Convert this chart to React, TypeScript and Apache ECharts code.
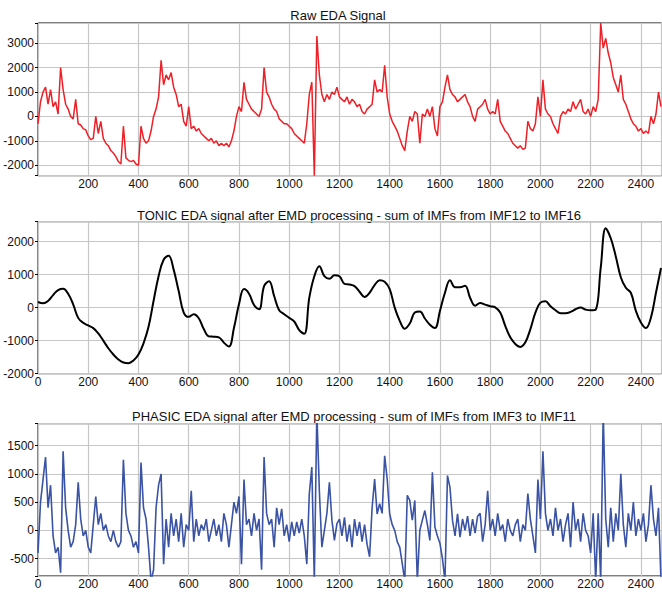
import { useEffect, useRef } from "react";
import * as echarts from "echarts";

// Spacing (in samples) of the stored points of each signal
const RAW_STEP = 10;
const TONIC_STEP = 20;
const PHASIC_STEP = 10;
const SAMPLE_COUNT = 2482;

// Raw EDA signal, one value every 10 samples
const rawEda = [
  -300, 600, 1000, 1200, 500, 1100, 400, 600, 100, 2000,
  1100, 500, 300, 0, -100, 700, -300, -350, -500, -550,
  -800, -950, -900, 0, -700, -200, -900, -1100, -1200, -1400,
  -1500, -1650, -1850, -1950, -400, -1700, -1800, -1850, -1800, -1950,
  -2000, -400, -900, -1100, -1000, -600, 0, 300, 800, 2300,
  1300, 1700, 1500, 1800, 1200, 900, 400, 500, -200, -400,
  400, -500, -400, -600, -500, -700, -800, -900, -1000, -900,
  -1100, -1000, -1200, -1100, -1200, -1100, -1250, -1000, -600, 0,
  400, 200, 1400, 700, 500, 300, 200, 100, 0, 300,
  2000, 1000, 800, 500, 300, 200, -100, -200, -300, -300,
  -400, -500, -700, -800, -900, -1000, -1100, -300, 900, 1400,
  -2430, 3300, 1700, 900, 600, 900, 700, 1000, 900, 1200,
  800, 700, 600, 800, 500, 700, 600, 400, 500, 200,
  100, 300, 400, 500, 1500, 1000, 1100, 1000, 2100, 800,
  100, -200, -400, -600, -900, -1200, -1400, -600, 0, -200,
  200, 100, -1100, 100, 0, 300, 0, 400, -500, -800,
  400, 600, 1200, 1700, 1100, 900, 800, 600, 700, 800,
  900, 600, 400, 0, -200, 300, 400, 500, 700, 300,
  100, 200, 100, 700, -200, -400, -600, -700, -900, -1100,
  -1200, -1300, -1200, -1350, -1300, -200, -500, -600, -300, 800,
  0, 1500, 300, 100, 0, -300, -500, -700, 0, 200,
  100, 300, 200, 600, 300, 500, 700, 200, 100, 300,
  0, 400, 200, 700, 3830, 2800, 3200, 2600, 2200, 1600,
  1300, 1000, 1700, 700, 500, 200, -100, -300, -400, -600,
  -500, -700, -600, -700, 0, -300, 100, 1000, 400,
];

// Tonic component (IMF12..IMF16), one value every 20 samples
const tonicEda = [
  170, 130, 200, 380, 530, 570, 420, 100, -310, -460,
  -540, -620, -780, -1000, -1230, -1420, -1570, -1660, -1680, -1600,
  -1420, -1080, -580, 200, 950, 1450, 1570, 1150, 500, -150,
  -280, -200, -320, -650, -870, -880, -900, -1060, -1180, -620,
  100, 560, 420, 80, -50, 650, 800, 350, -80, -200,
  -310, -420, -680, -790, 300, 950, 1250, 950, 870, 980,
  950, 720, 700, 650, 480, 320, 450, 680, 830, 780,
  560, 0, -400, -640, -480, -150, -120, -330, -520, -620,
  -100, 450, 830, 620, 620, 660, 300, 60, 140, 90,
  40, 10, -150, -550, -900, -1100, -1190, -1050, -650, -150,
  150, 190, 40, -80, -170, -170, -130, -50, 0, -60,
  -80, -60, 1200, 2400, 2100, 1550, 920, 600, 450, -100,
  -450, -620, -300, 450, 1200,
];

// Phasic component (IMF3..IMF11), one value every 10 samples
const phasicEda = [
  -400, 500, 900, 1300, 400, 800, -100, -400, -300, -750,
  1400, 400, 0, -300, -200, 100, 850, 200, -100, 0,
  -300, -400, 100, 600, 100, 300, 0, 100, -100, -200,
  0, -200, -300, -200, 1250, 300, 0, -100, -300, -200,
  -400, 1200, 400, 200, -300, -900, -700, 400, 800, 1000,
  -600, 200, -300, 300, -100, 200, -200, 300, -300, 100,
  0, 700, -200, 200, -100, 100, 0, 200, -200, 0,
  200, -100, 100, -200, 300, 100, -300, 100, 500, 300,
  600, -600, 900, 100, 200, -100, 300, 0, 200, -700,
  1300, 300, 100, 200, -300, 400, 100, 380, -100, 100,
  -200, 150, -100, 150, -50, 200, -100, -600, 650, 1120,
  -900, 2100, 700, -300, 0, 300, 850, 180, -180, 120,
  200, -100, 230, -200, 100, -300, 200, -100, 150, -200,
  100, -250, -470, 400, 910, 290, 470, 300, 1320, 910,
  290, 100, 0, -200, -300, -590, -900, 620, 530, 180,
  530, -900, 0, 180, 350, 100, -180, 1030, 60, -100,
  -230, -500, -900, 970, 760, 180, -100, 290, -120, 200,
  0, 250, -100, 200, -50, 250, 300, -200, 100, 700,
  0, 200, -100, 300, 0, 100, -200, 200, 0, -100,
  100, 200, -200, 100, 0, 650, 200, -100, -400, 900,
  200, 1400, 300, 0, 200, -100, 400, 0, 200, -200,
  100, 300, -300, 500, 0, 200, -200, 300, 0, -100,
  -400, 300, -900, 300, -900, 2100, 200, -300, 400, -200,
  300, 0, 1000, 100, -300, 300, 0, 500, -100, 200,
  0, 300, -200, 100, 800, 200, -100, 400, -900,
];

const panelTitles = [
  "Raw EDA Signal",
  "TONIC EDA signal after EMD processing - sum of IMFs from IMF12 to IMF16",
  "PHASIC EDA signal after EMD processing - sum of IMFs from IMF3 to IMF11",
];
const yRanges = [
  [-2430, 3830],
  [-2000, 2600],
  [-810, 1890],
];
const yLabelSteps = [1000, 1000, 500];
const xLabelStep = 200;

const toPoints = (values: number[], step: number) =>
  values.map((v, i) => [i * step, v]);

export default function App() {
  const ref = useRef<HTMLDivElement>(null);

  useEffect(() => {
    if (!ref.current) return;
    const chart = echarts.init(ref.current, null, { renderer: "svg" });
    const font = "'Liberation Sans', Arial, Helvetica, sans-serif";

    const panels = [
      { top: 23, height: 152.7 },
      { top: 221.7, height: 152 },
      { top: 423.7, height: 152.3 },
    ];
    const titlePos = [
      [338, 15],
      [359, 215],
      [354, 416],
    ];

    const grid = panels.map((p) => ({
      left: 38,
      width: 623.5,
      top: p.top,
      height: p.height,
      show: true,
      borderColor: "#000",
      borderWidth: 1,
      backgroundColor: "transparent",
      containLabel: false,
      outerBoundsMode: "none",
    }));

    const xAxis = panels.map((_, i) => ({
      type: "value",
      gridIndex: i,
      min: 0,
      max: SAMPLE_COUNT,
      interval: xLabelStep,
      axisLine: { show: false },
      axisTick: { show: false },
      splitLine: { show: true, lineStyle: { color: "#c6c6c6", width: 1.2 } },
      axisLabel: {
        show: true,
        margin: 2,
        fontSize: 12,
        fontFamily: font,
        color: "#111",
        formatter: (v: number) =>
          v % xLabelStep !== 0 || (i === 0 && v === 0) ? "" : String(v),
      },
    }));

    const yAxis = panels.map((_, i) => ({
      type: "value",
      gridIndex: i,
      min: yRanges[i][0],
      max: yRanges[i][1],
      splitNumber: 5,
      axisLine: { show: false },
      axisTick: {
        show: true,
        length: 3,
        lineStyle: { color: "#000", width: 1 },
      },
      splitLine: { show: true, lineStyle: { color: "#c6c6c6", width: 1.2 } },
      axisLabel: {
        show: true,
        margin: 4,
        fontSize: 12,
        fontFamily: font,
        color: "#111",
        formatter: (v: number) =>
          v % yLabelSteps[i] !== 0 ? "" : String(v),
      },
    }));

    const series = [
      {
        type: "line",
        xAxisIndex: 0,
        yAxisIndex: 0,
        data: toPoints(rawEda, RAW_STEP),
        showSymbol: false,
        clip: true,
        lineStyle: { color: "#ee1f26", width: 1.5 },
      },
      {
        type: "line",
        xAxisIndex: 1,
        yAxisIndex: 1,
        data: toPoints(tonicEda, TONIC_STEP),
        showSymbol: false,
        smooth: 0.4,
        clip: true,
        lineStyle: { color: "#000", width: 2 },
      },
      {
        type: "line",
        xAxisIndex: 2,
        yAxisIndex: 2,
        data: toPoints(phasicEda, PHASIC_STEP),
        showSymbol: false,
        clip: true,
        lineStyle: { color: "#3a53a4", width: 1.6 },
      },
    ];

    chart.setOption({
      animation: false,
      backgroundColor: "#fff",
      grid,
      xAxis,
      yAxis,
      series,
      graphic: panelTitles.map((t, i) => ({
        type: "text",
        x: titlePos[i][0],
        y: titlePos[i][1],
        style: {
          text: t,
          fontSize: 13,
          fontFamily: font,
          fill: "#111",
          align: "center",
          verticalAlign: "middle",
        },
      })),
    });

    return () => chart.dispose();
  }, []);

  return (
    <div
      ref={ref}
      style={{ position: "absolute", left: 0, top: 0, width: 662, height: 592 }}
    />
  );
}
